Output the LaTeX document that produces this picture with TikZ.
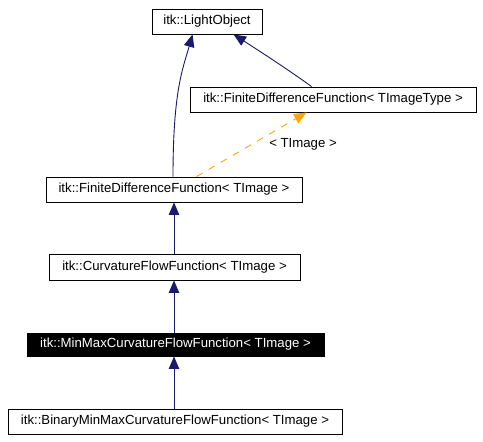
\documentclass[tikz,border=0pt]{standalone}
\usepackage{fontspec}
\setmainfont{Liberation Sans}
\usetikzlibrary{arrows.meta,calc}
\definecolor{navy}{HTML}{191970}
\definecolor{dxorange}{HTML}{FFA500}
\begin{document}
\begin{tikzpicture}[x=1bp,y=-1bp,
  cls/.style={draw=black,line width=0.9bp,fill=white,inner sep=0pt,minimum height=25bp,
    font=\fontsize{13.2bp}{15bp}\selectfont,text=black},
  cur/.style={cls,fill=black,text=white},
  inh/.style={draw=navy,line width=0.9bp,-{Triangle[width=10.5bp,length=12.5bp]}},
  tpl/.style={draw=dxorange,line width=0.9bp,dash pattern=on 7bp off 7bp,
    -{Triangle[width=10.5bp,length=12.5bp]}},
  lbl/.style={font=\fontsize{13.2bp}{15bp}\selectfont,inner sep=0pt}]
\useasboundingbox[fill=white] (0,0) rectangle (483,442);
\node[cls,minimum width=110bp] (lo) at (207,21.5) {itk::LightObject};
\node[cls,minimum width=286bp] (fdft) at (333,99.5) {itk::FiniteDifferenceFunction< TImageType >};
\node[cls,minimum width=256bp] (fdf) at (174,189.5) {itk::FiniteDifferenceFunction< TImage >};
\node[cls,minimum width=251bp,minimum height=26bp] (cff) at (174.5,267) {itk::CurvatureFlowFunction< TImage >};
\node[cur,minimum width=297bp,minimum height=23bp] (mm) at (175.5,344.5) {itk::MinMaxCurvatureFlowFunction< TImage >};
\node[cls,minimum width=334bp] (bin) at (175,421.5) {itk::BinaryMinMaxCurvatureFlowFunction< TImage >};
\coordinate (a1) at ([xshift=-1bp]fdf.north);
\coordinate (a2) at ([xshift=41bp]lo.south west);
\draw[inh] (a1) .. controls ([yshift=85bp]a1) and ([xshift=-10bp,yshift=-35bp]a2) .. (a2);
\coordinate (b1) at ([xshift=122bp]fdft.north west);
\coordinate (b2) at ([xshift=82bp]lo.south west);
\draw[inh] (b1) .. controls ([xshift=-22bp,yshift=16bp]b1) and ([xshift=22bp,yshift=-14bp]b2) .. (b2);
\coordinate (c1) at ([xshift=151bp]fdf.north west);
\coordinate (c2) at ([xshift=117bp]fdft.south west);
\draw[tpl] (c1) -- (c2);
\node[lbl] (tl) at (303,144) {< TImage >};
\draw[inh] ([xshift=-0.5bp]cff.north) -- ([xshift=-0.5bp]cff.north |- fdf.south);
\draw[inh] ([xshift=-1.5bp]mm.north) -- ([xshift=-1.5bp]mm.north |- cff.south);
\draw[inh] ([xshift=-1bp]bin.north) -- ([xshift=-1bp]bin.north |- mm.south);
\end{tikzpicture}
\end{document}
